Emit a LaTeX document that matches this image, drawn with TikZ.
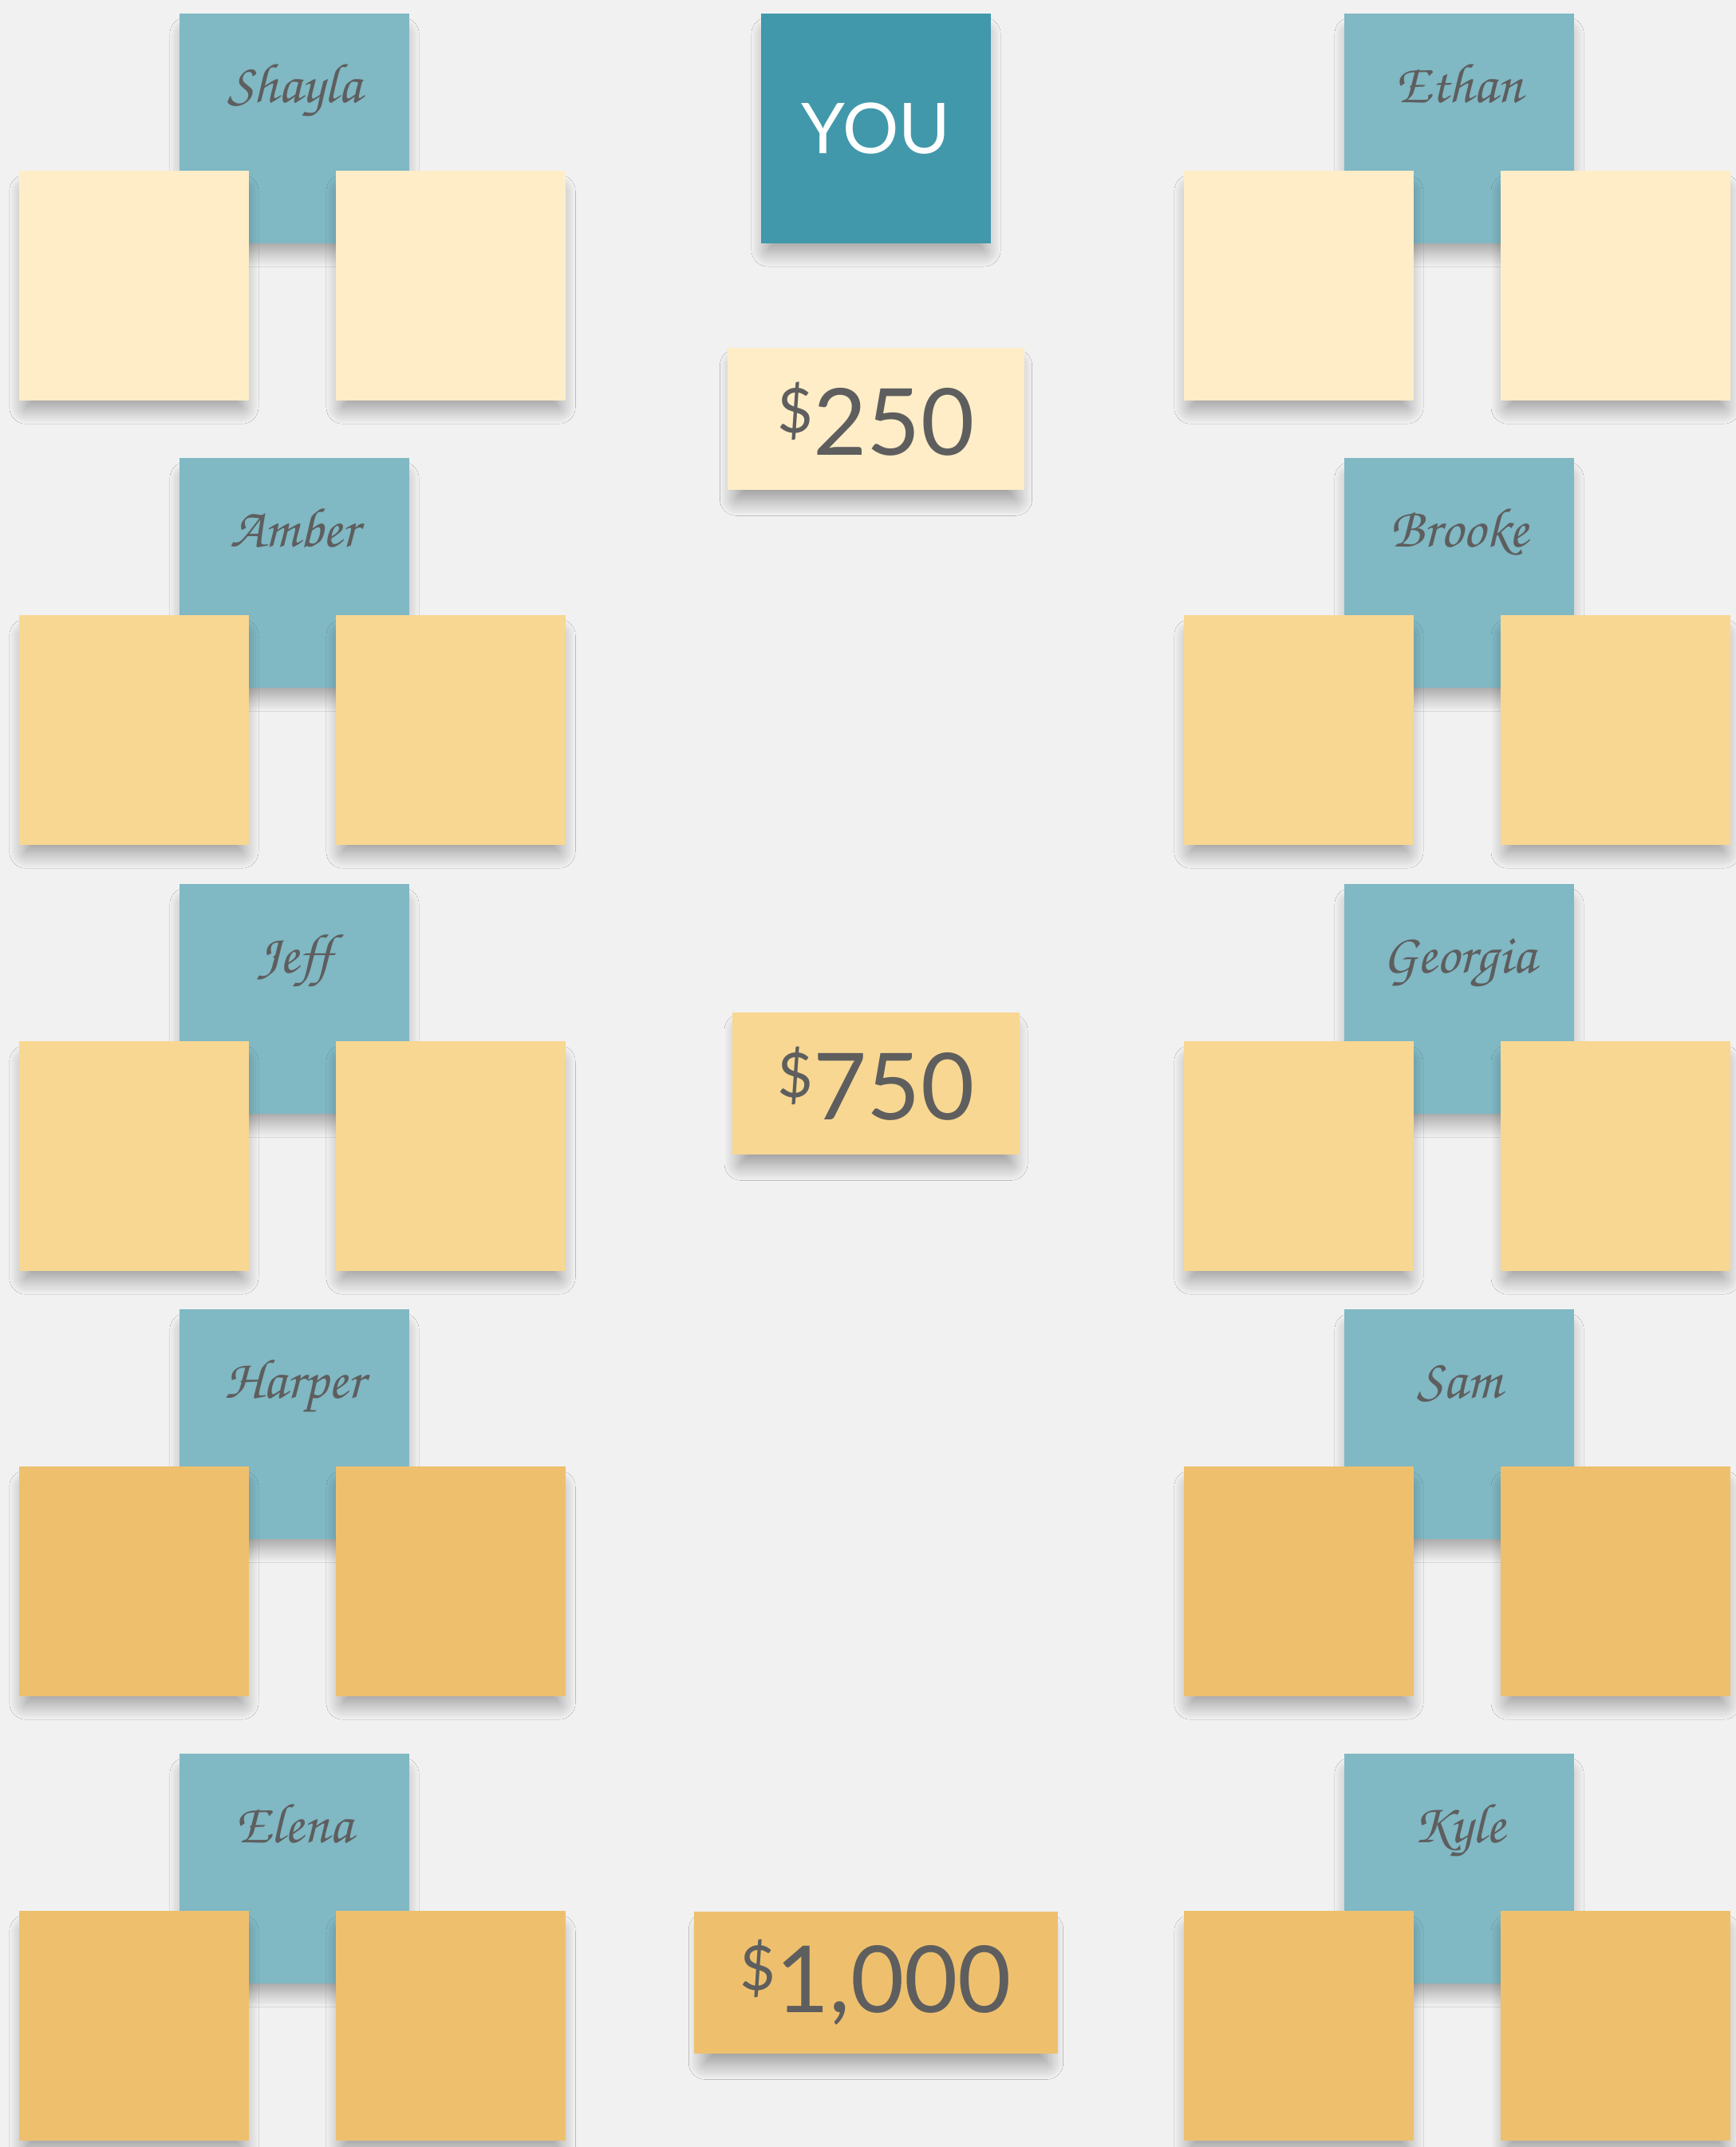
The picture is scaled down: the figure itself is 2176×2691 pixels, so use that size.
\documentclass[tikz,border=0pt]{standalone}
\usepackage[T1]{fontenc}
\usepackage{fontspec}
\setsansfont{Lato}
\usepackage{tikz}
\usetikzlibrary{positioning,shadows.blur}
\definecolor{paper}{HTML}{F1F1F1}
\definecolor{tealcard}{HTML}{80B8C4}
\definecolor{youcard}{HTML}{4198AB}
\definecolor{pale}{HTML}{FEEDC7}
\definecolor{mellow}{HTML}{F8D792}
\definecolor{amber}{HTML}{EEC06E}
\definecolor{inkgray}{HTML}{5E5E5E}
\newcommand{\namefont}{\fontencoding{T1}\fontfamily{pzc}\fontsize{20}{20}\selectfont}
\newcommand{\prizefont}{\sffamily\fontsize{33}{33}\selectfont}
\newcommand{\dollar}{\raisebox{0.24em}{\fontsize{22}{22}\selectfont\$}}

\begin{document}
\begin{tikzpicture}[x=0.01cm, y=-0.01cm, on grid,
    card/.style={rectangle, inner sep=0pt, minimum size=2.88cm,
      blur shadow={shadow xshift=0pt, shadow yshift=-0.18cm, shadow scale=0.94, shadow blur radius=0.22cm, shadow opacity=40, shadow blur steps=20}},
    namecard/.style={card, fill=tealcard},
    namelabel/.style={anchor=base, yshift=-1.12cm, text=inkgray, font=\namefont},
    slot/.style={card, fill=#1},
    prize/.style={card, minimum height=1.78cm, minimum width=#1, text=inkgray, font=\prizefont}]
          \useasboundingbox (0,0) rectangle (2176,2691);
          \fill[paper] (0,0) rectangle (2176,2691);
          % middle column
          \node[card, fill=youcard, text=white, font=\sffamily\fontsize{25}{25}\selectfont] (you) at (1098,161) {\raisebox{-0.06cm}{YOU}};
          \node[prize=3.72cm, fill=pale] (p250) at (1098,525) {\dollar250};
          \node[prize=3.60cm, fill=mellow] (p750) at (1098,1358) {\dollar750};
          \node[prize=4.55cm, fill=amber] (p1000) at (1098,2485) {\dollar1,000};
          % left column
          \node[namecard, label={[namelabel]north:Shayla}] (shayla) at (369,161) {};
          \node[slot=pale, below left=1.97cm and 2.01cm of shayla] (shaylaL) {};
          \node[slot=pale, below right=1.97cm and 1.96cm of shayla] (shaylaR) {};
          \node[namecard, label={[namelabel]north:Amber}] (amber) at (369,718) {};
          \node[slot=mellow, below left=1.97cm and 2.01cm of amber] (amberL) {};
          \node[slot=mellow, below right=1.97cm and 1.96cm of amber] (amberR) {};
          \node[namecard, label={[namelabel]north:Jeff}] (jeff) at (369,1252) {};
          \node[slot=mellow, below left=1.97cm and 2.01cm of jeff] (jeffL) {};
          \node[slot=mellow, below right=1.97cm and 1.96cm of jeff] (jeffR) {};
          \node[namecard, label={[namelabel]north:Harper}] (harper) at (369,1785) {};
          \node[slot=amber, below left=1.97cm and 2.01cm of harper] (harperL) {};
          \node[slot=amber, below right=1.97cm and 1.96cm of harper] (harperR) {};
          \node[namecard, label={[namelabel]north:Elena}] (elena) at (369,2342) {};
          \node[slot=amber, below left=1.97cm and 2.01cm of elena] (elenaL) {};
          \node[slot=amber, below right=1.97cm and 1.96cm of elena] (elenaR) {};
          % right column
          \node[namecard, label={[namelabel]north:Ethan}] (ethan) at (1829,161) {};
          \node[slot=pale, below left=1.97cm and 2.01cm of ethan] (ethanL) {};
          \node[slot=pale, below right=1.97cm and 1.96cm of ethan] (ethanR) {};
          \node[namecard, label={[namelabel]north:Brooke}] (brooke) at (1829,718) {};
          \node[slot=mellow, below left=1.97cm and 2.01cm of brooke] (brookeL) {};
          \node[slot=mellow, below right=1.97cm and 1.96cm of brooke] (brookeR) {};
          \node[namecard, label={[namelabel]north:Georgia}] (georgia) at (1829,1252) {};
          \node[slot=mellow, below left=1.97cm and 2.01cm of georgia] (georgiaL) {};
          \node[slot=mellow, below right=1.97cm and 1.96cm of georgia] (georgiaR) {};
          \node[namecard, label={[namelabel]north:Sam}] (sam) at (1829,1785) {};
          \node[slot=amber, below left=1.97cm and 2.01cm of sam] (samL) {};
          \node[slot=amber, below right=1.97cm and 1.96cm of sam] (samR) {};
          \node[namecard, label={[namelabel]north:Kyle}] (kyle) at (1829,2342) {};
          \node[slot=amber, below left=1.97cm and 2.01cm of kyle] (kyleL) {};
          \node[slot=amber, below right=1.97cm and 1.96cm of kyle] (kyleR) {};
        \end{tikzpicture}
\end{document}
